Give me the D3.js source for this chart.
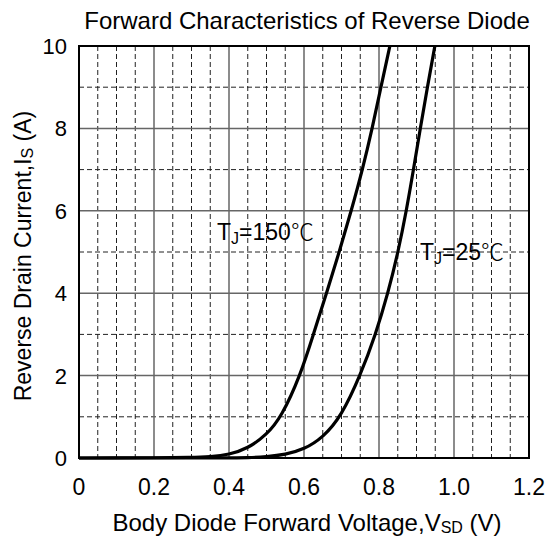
<!DOCTYPE html>
<html>
<head>
<meta charset="utf-8">
<script src="https://cdn.jsdelivr.net/npm/d3@7"></script>
<style>
  body { margin: 0; background: #fff; }
  svg { display: block; font-family: Arial, "Liberation Sans", sans-serif; }
</style>
</head>
<body>
<svg id="chart" width="548" height="537"></svg>
<script>
// values
const xTicks = [0, 0.2, 0.4, 0.6, 0.8, 1.0, 1.2];
const yTicks = [0, 2, 4, 6, 8, 10];

const v150 = [0, 0.1, 0.2, 0.3, 0.35, 0.4, 0.45, 0.5, 0.54, 0.59, 0.625, 0.66, 0.694, 0.726, 0.756, 0.782, 0.805, 0.829];
const i150 = [0, 0.002, 0.005, 0.012, 0.03, 0.08, 0.23, 0.56, 1.0, 2.0, 3.0, 4.0, 5.0, 6.0, 7.0, 8.0, 9.0, 10];

const v25 = [0, 0.2, 0.4, 0.45, 0.5, 0.55, 0.6, 0.65, 0.70, 0.75, 0.791, 0.824, 0.851, 0.873, 0.892, 0.91, 0.929, 0.949];
const i25 = [0, 0, 0.002, 0.008, 0.03, 0.08, 0.21, 0.49, 1.02, 2.0, 3.0, 4.0, 5.0, 6.0, 7.0, 8.0, 9.0, 10];

const svg = d3.select('#chart');
const m = { left: 79, right: 529, top: 46, bottom: 458 };

const x = d3.scaleLinear().domain([0, 1.2]).range([m.left, m.right]);
const y = d3.scaleLinear().domain([0, 10]).range([m.bottom, m.top]);

// grid: dashed minor, solid major
const g = svg.append('g');
const minorX = d3.range(1, 24).map(k => k * 0.05).filter((d, k) => (k + 1) % 4 !== 0);
const majorX = [0.2, 0.4, 0.6, 0.8, 1.0];
const minorY = [1, 3, 5, 7, 9];
const majorY = [2, 4, 6, 8];

g.selectAll('.mx').data(minorX).join('line')
  .attr('x1', d => x(d)).attr('x2', d => x(d))
  .attr('y1', m.top).attr('y2', m.bottom)
  .attr('stroke', '#222').attr('stroke-width', 1).attr('stroke-dasharray', '5,3');
g.selectAll('.my').data(minorY).join('line')
  .attr('y1', d => y(d)).attr('y2', d => y(d))
  .attr('x1', m.left).attr('x2', m.right)
  .attr('stroke', '#222').attr('stroke-width', 1).attr('stroke-dasharray', '5,3');
g.selectAll('.Mx').data(majorX).join('line')
  .attr('x1', d => x(d)).attr('x2', d => x(d))
  .attr('y1', m.top).attr('y2', m.bottom)
  .attr('stroke', '#666').attr('stroke-width', 1.5);
g.selectAll('.My').data(majorY).join('line')
  .attr('y1', d => y(d)).attr('y2', d => y(d))
  .attr('x1', m.left).attr('x2', m.right)
  .attr('stroke', '#666').attr('stroke-width', 1.5);

// frame
svg.append('rect')
  .attr('x', m.left).attr('y', m.top)
  .attr('width', m.right - m.left).attr('height', m.bottom - m.top)
  .attr('fill', 'none').attr('stroke', '#000').attr('stroke-width', 2);

// curves (basis spline keeps them smooth like the original)
const line = d3.line().x(d => x(d[0])).y(d => y(d[1])).curve(d3.curveBasis);
svg.append('path').datum(d3.zip(v150, i150))
  .attr('d', line).attr('fill', 'none').attr('stroke', '#000').attr('stroke-width', 3.2);
svg.append('path').datum(d3.zip(v25, i25))
  .attr('d', line).attr('fill', 'none').attr('stroke', '#000').attr('stroke-width', 3.2);

// tick labels
svg.selectAll('.xt').data(xTicks).join('text')
  .attr('x', d => x(d)).attr('y', 495)
  .attr('text-anchor', 'middle').attr('font-size', 23)
  .text(d => d === 0 ? '0' : d.toFixed(1));
svg.selectAll('.yt').data(yTicks).join('text')
  .attr('x', 67).attr('y', d => y(d) + 8)
  .attr('text-anchor', 'end').attr('font-size', 22)
  .text(d => d);

// titles
svg.append('text').attr('x', 307).attr('y', 29)
  .attr('text-anchor', 'middle').attr('font-size', 24)
  .text('Forward Characteristics of Reverse Diode');

const xt = svg.append('text').attr('x', 307).attr('y', 531)
  .attr('text-anchor', 'middle').attr('font-size', 24);
xt.append('tspan').text('Body Diode Forward Voltage,V');
xt.append('tspan').attr('font-size', 16).attr('dy', 2).text('SD');
xt.append('tspan').attr('dy', -2).text(' (V)');

const yt = svg.append('text')
  .attr('transform', 'translate(31,256) rotate(-90)')
  .attr('text-anchor', 'middle').attr('font-size', 23);
yt.append('tspan').text('Reverse Drain Current,I');
yt.append('tspan').attr('font-size', 16).attr('dy', 2).text('S');
yt.append('tspan').attr('dy', -2).text(' (A)');

// curve labels
function tjLabel(px, py, t) {
  const tx = svg.append('text').attr('x', px).attr('y', py).attr('font-size', 23);
  tx.append('tspan').text('T');
  tx.append('tspan').attr('font-size', 16).attr('dy', 4).text('J');
  tx.append('tspan').attr('dy', -4).text('=' + t);
  tx.append('tspan').attr('font-family', '"Noto Sans CJK SC"').attr('font-weight', 300).text('℃');
}
tjLabel(217, 240, '150');
tjLabel(420, 260, '25');
</script>
</body>
</html>
